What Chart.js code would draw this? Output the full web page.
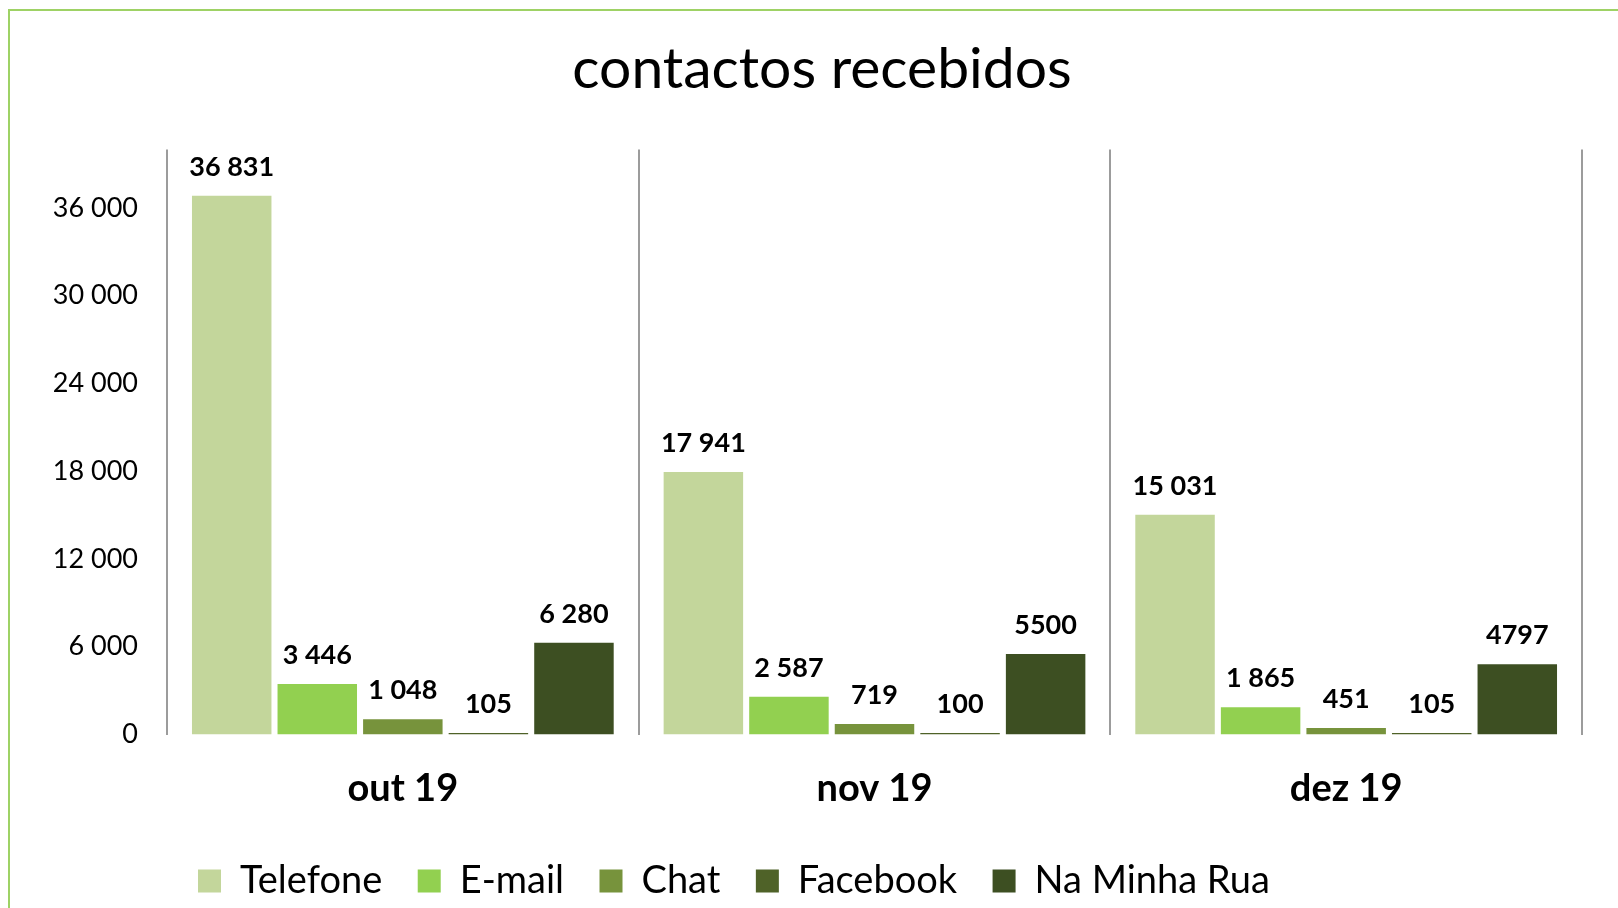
<!DOCTYPE html>
<html>
<head>
<meta charset="utf-8">
<title>contactos recebidos</title>
<script src="https://cdn.jsdelivr.net/npm/chart.js@4.4.0/dist/chart.umd.min.js"></script>
<style>
    html, body { margin: 0; padding: 0; background: #fff; overflow: hidden; }
    #wrap { position: relative; width: 1618px; height: 908px; overflow: hidden; }
    #frame { position: absolute; left: 8px; top: 9px; width: 1700px; height: 1000px;
             border: 2px solid #9ed265; box-sizing: border-box; }
    #chart { position: absolute; left: 0; top: 0; }
</style>
</head>
<body>
<div id="wrap">
    <div id="frame"></div>
    <canvas id="chart" width="1618" height="908"></canvas>
</div>
<script>
    "use strict";

    var months = ['out 19', 'nov 19', 'dez 19'];
    var seriesNames = ['Telefone', 'E-mail', 'Chat', 'Facebook', 'Na Minha Rua'];
    var telefone = [36831, 17941, 15031];
    var email = [3446, 2587, 1865];
    var chat = [1048, 719, 451];
    var facebook = [105, 100, 105];
    var naMinhaRua = [6280, 5500, 4797];
    // the source writes the last two without the thousands space
    var naMinhaRuaLabels = ['6 280', '5500', '4797'];
    var yTicks = [0, 6000, 12000, 18000, 24000, 30000, 36000];
    var seriesColors = ['#c3d69b', '#92d050', '#77933c', '#4f6228', '#3d4f22'];

    var FONT = 'Lato, "Open Sans", sans-serif';

    function fmt(v) {
        return String(v).replace(/\B(?=(\d{3})+(?!\d))/g, ' ');
    }

    // value labels above each bar
    var barValueLabels = {
        id: 'barValueLabels',
        afterDatasetsDraw: function (chart) {
            var ctx = chart.ctx;
            ctx.save();
            ctx.font = 'bold 27px ' + FONT;
            ctx.fillStyle = '#000';
            ctx.textAlign = 'center';
            ctx.textBaseline = 'alphabetic';
            chart.data.datasets.forEach(function (ds, i) {
                chart.getDatasetMeta(i).data.forEach(function (bar, j) {
                    var text = ds.valueLabels ? ds.valueLabels[j] : fmt(ds.data[j]);
                    ctx.fillText(text, bar.x, bar.y - 20);
                });
            });
            ctx.restore();
        }
    };

    // title and legend are not centred on the canvas in the source
    var shiftBoxes = {
        id: 'shiftBoxes',
        afterLayout: function (chart) {
            var legend = chart.legend;
            var pad = legend.options.labels.padding;
            var w = legend.right - legend.left;
            legend.left = 198 - pad;
            legend.right = legend.left + w;
            legend.top += 2;
            legend.bottom += 2;

            var title = chart.titleBlock;
            var dx = 822 - (title.left + title.right) / 2;
            title.left += dx;
            title.right += dx;
        }
    };

    var values = [telefone, email, chat, facebook, naMinhaRua];
    var datasets = seriesNames.map(function (name, i) {
        return {
            label: name,
            data: values[i],
            backgroundColor: seriesColors[i],
            borderWidth: 0,
            categoryPercentage: 0.907,
            barPercentage: 0.929,
            valueLabels: i === 4 ? naMinhaRuaLabels : null
        };
    });

    var ctx = document.getElementById('chart');
    new Chart(ctx, {
        type: 'bar',
        data: { labels: months, datasets: datasets },
        plugins: [barValueLabels, shiftBoxes],
        options: {
            responsive: false,
            animation: false,
            layout: { padding: { left: 0, right: 36, top: 0, bottom: 0 } },
            plugins: {
                tooltip: { enabled: false },
                title: {
                    display: true,
                    text: 'contactos recebidos',
                    color: '#000',
                    font: { family: FONT, size: 57, weight: 'normal' },
                    padding: { top: 35, bottom: 46 }
                },
                legend: {
                    position: 'bottom',
                    align: 'start',
                    labels: {
                        color: '#000',
                        font: { family: FONT, size: 38 },
                        boxWidth: 23,
                        boxHeight: 23,
                        padding: 35.5
                    }
                }
            },
            scales: {
                x: {
                    grid: { display: true, color: '#9c9c9c', lineWidth: 2, drawTicks: false, offset: true },
                    border: { display: false },
                    ticks: {
                        color: '#000',
                        padding: 31,
                        font: { family: FONT, size: 38, weight: 'bold' }
                    },
                    afterFit: function (scale) { scale.height = 90; }
                },
                y: {
                    min: 0,
                    max: 40000,
                    grid: { display: false },
                    border: { display: false },
                    afterBuildTicks: function (scale) {
                        scale.ticks = yTicks.map(function (v) { return { value: v }; });
                    },
                    ticks: {
                        color: '#000',
                        padding: 21,
                        font: { family: FONT, size: 27 },
                        callback: function (v) { return fmt(v); }
                    },
                    afterFit: function (scale) { scale.width = 167; }
                }
            }
        }
    });
</script>
</body>
</html>
